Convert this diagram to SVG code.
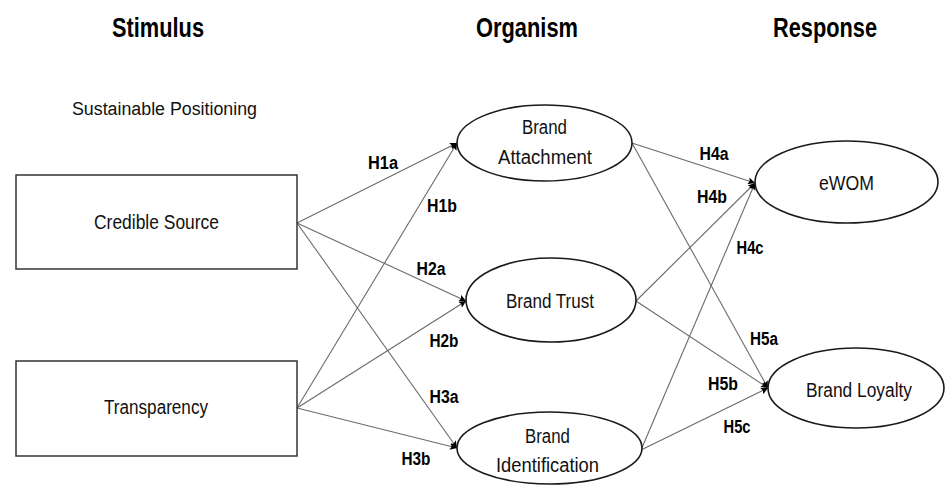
<svg xmlns="http://www.w3.org/2000/svg" width="945" height="486" viewBox="0 0 945 486">
<style>
.hdr{font-family:"Liberation Sans",Arial,sans-serif;font-weight:bold;font-size:27px;fill:#000;text-anchor:middle}
.sub{font-family:"Liberation Sans",Arial,sans-serif;font-size:18px;fill:#111}
.lbl{font-family:"Liberation Sans",Arial,sans-serif;font-size:20px;fill:#111;text-anchor:middle}
.hyp{font-family:"Liberation Sans",Arial,sans-serif;font-weight:bold;font-size:18px;fill:#000;text-anchor:middle}
.box{fill:#fff;stroke:#333;stroke-width:1.5}
.ell{fill:#fff;stroke:#1a1a1a;stroke-width:1.6}
.con{fill:none;stroke:#6b6b6b;stroke-width:1.1;marker-end:url(#ah)}
</style>
<defs>
<marker id="ah" markerUnits="userSpaceOnUse" viewBox="0 0 10 10" refX="10" refY="5" markerWidth="9" markerHeight="7" orient="auto">
<path d="M0,0 L10,5 L0,10 L2,5 z" fill="#000"/>
</marker>
</defs>
<rect width="945" height="486" fill="#fff"/>

<g id="headers">
<text class="hdr" x="158" y="37" textLength="92" lengthAdjust="spacingAndGlyphs">Stimulus</text>
<text class="hdr" x="527" y="37" textLength="102" lengthAdjust="spacingAndGlyphs">Organism</text>
<text class="hdr" x="825" y="37" textLength="104" lengthAdjust="spacingAndGlyphs">Response</text>
<text class="sub" x="72" y="115" textLength="185" lengthAdjust="spacingAndGlyphs">Sustainable Positioning</text>
</g>

<g id="connectors">
<line class="con" x1="297" y1="223" x2="457" y2="143"/>
<line class="con" x1="297" y1="408" x2="457" y2="143"/>
<line class="con" x1="297" y1="223" x2="466" y2="301"/>
<line class="con" x1="297" y1="408" x2="466" y2="301"/>
<line class="con" x1="297" y1="223" x2="457" y2="448"/>
<line class="con" x1="297" y1="408" x2="457" y2="448"/>
<line class="con" x1="632" y1="143" x2="755" y2="183"/>
<line class="con" x1="636" y1="301" x2="755" y2="183"/>
<line class="con" x1="641" y1="450" x2="755" y2="183"/>
<line class="con" x1="632" y1="143" x2="768" y2="388"/>
<line class="con" x1="636" y1="301" x2="768" y2="388"/>
<line class="con" x1="641" y1="450" x2="768" y2="388"/>
</g>

<g id="hypotheses">
<text class="hyp" x="383" y="169" textLength="30" lengthAdjust="spacingAndGlyphs">H1a</text>
<text class="hyp" x="442" y="212" textLength="30" lengthAdjust="spacingAndGlyphs">H1b</text>
<text class="hyp" x="431" y="275" textLength="29" lengthAdjust="spacingAndGlyphs">H2a</text>
<text class="hyp" x="444" y="347" textLength="29" lengthAdjust="spacingAndGlyphs">H2b</text>
<text class="hyp" x="444" y="403" textLength="29" lengthAdjust="spacingAndGlyphs">H3a</text>
<text class="hyp" x="416" y="465" textLength="29" lengthAdjust="spacingAndGlyphs">H3b</text>
<text class="hyp" x="714" y="160" textLength="29" lengthAdjust="spacingAndGlyphs">H4a</text>
<text class="hyp" x="712" y="203" textLength="30" lengthAdjust="spacingAndGlyphs">H4b</text>
<text class="hyp" x="750" y="254" textLength="27" lengthAdjust="spacingAndGlyphs">H4c</text>
<text class="hyp" x="764" y="345" textLength="28" lengthAdjust="spacingAndGlyphs">H5a</text>
<text class="hyp" x="723" y="390" textLength="30" lengthAdjust="spacingAndGlyphs">H5b</text>
<text class="hyp" x="737" y="433" textLength="27" lengthAdjust="spacingAndGlyphs">H5c</text>
</g>

<g id="credible-source">
<rect class="box" x="16" y="175" width="281" height="94"/>
<text class="lbl" x="156.5" y="229" textLength="125" lengthAdjust="spacingAndGlyphs">Credible Source</text>
</g>

<g id="transparency">
<rect class="box" x="16" y="361" width="281" height="95"/>
<text class="lbl" x="156" y="414" textLength="104" lengthAdjust="spacingAndGlyphs">Transparency</text>
</g>

<g id="brand-attachment">
<ellipse class="ell" cx="544.5" cy="143" rx="87.5" ry="38"/>
<text class="lbl" x="544.5" y="134" textLength="45" lengthAdjust="spacingAndGlyphs">Brand</text>
<text class="lbl" x="545" y="164" textLength="94" lengthAdjust="spacingAndGlyphs">Attachment</text>
</g>

<g id="brand-trust">
<ellipse class="ell" cx="551" cy="300" rx="85" ry="42"/>
<text class="lbl" x="550" y="308" textLength="88" lengthAdjust="spacingAndGlyphs">Brand Trust</text>
</g>

<g id="brand-identification">
<ellipse class="ell" cx="549.5" cy="448" rx="92.5" ry="36"/>
<text class="lbl" x="547.5" y="443" textLength="45" lengthAdjust="spacingAndGlyphs">Brand</text>
<text class="lbl" x="547.5" y="472" textLength="103" lengthAdjust="spacingAndGlyphs">Identification</text>
</g>

<g id="ewom">
<ellipse class="ell" cx="846.5" cy="182" rx="91.5" ry="41"/>
<text class="lbl" x="846.5" y="190" textLength="55" lengthAdjust="spacingAndGlyphs">eWOM</text>
</g>

<g id="brand-loyalty">
<ellipse class="ell" cx="856" cy="388" rx="88" ry="40"/>
<text class="lbl" x="859" y="397" textLength="106" lengthAdjust="spacingAndGlyphs">Brand Loyalty</text>
</g>
</svg>
